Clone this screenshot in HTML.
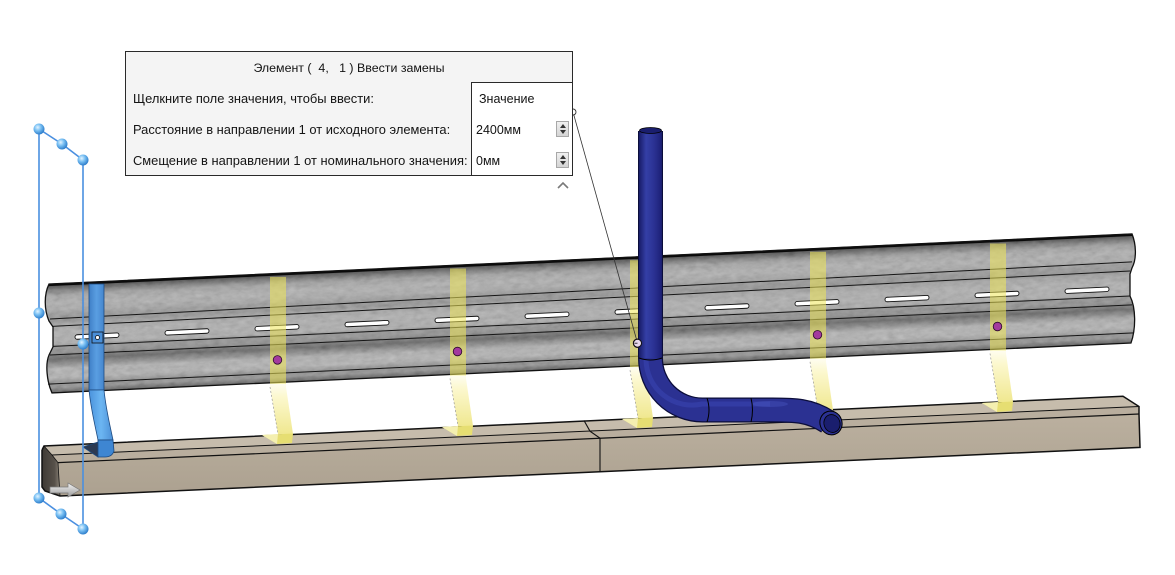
<!DOCTYPE html>
<html><head><meta charset="utf-8">
<style>
html,body{margin:0;padding:0;background:#fff;}
#wrap{position:relative;width:1175px;height:575px;overflow:hidden;background:#fff;}
svg{position:absolute;left:0;top:0;}
.dlg{position:absolute;left:125px;top:51px;width:448px;height:125px;box-sizing:border-box;border:1px solid #2a2a2a;background:#f4f4f4;font-family:"Liberation Sans","DejaVu Sans",sans-serif;font-size:12.9px;color:#141414;}
.t{position:absolute;white-space:nowrap;line-height:14px;}
.val{position:absolute;left:345px;top:30px;width:101px;height:93px;box-sizing:border-box;border-left:1px solid #2a2a2a;border-top:1px solid #2a2a2a;background:#fff;font-size:12.5px;}
.sp{position:absolute;left:84px;width:13px;height:16px;box-sizing:border-box;border:1px solid #a8a8a8;background:linear-gradient(#f0f0f0,#d4d4d4);}
.sp:before{content:"";position:absolute;left:3px;top:2px;border-left:3px solid transparent;border-right:3px solid transparent;border-bottom:4px solid #333;}
.sp:after{content:"";position:absolute;left:3px;top:8px;border-left:3px solid transparent;border-right:3px solid transparent;border-top:4px solid #333;}
</style></head>
<body><div id="wrap">
<svg width="1175" height="575" viewBox="0 0 1175 575" xmlns="http://www.w3.org/2000/svg">
<defs>
<linearGradient id="railg" x1="0" y1="0" x2="0" y2="1">
<stop offset="0" stop-color="#1a1a1a"/>
<stop offset="0.02" stop-color="#333333"/>
<stop offset="0.06" stop-color="#6e6e6e"/>
<stop offset="0.10" stop-color="#9a9a9a"/>
<stop offset="0.17" stop-color="#adadad"/>
<stop offset="0.24" stop-color="#a5a5a5"/>
<stop offset="0.28" stop-color="#939393"/>
<stop offset="0.34" stop-color="#8a8a8a"/>
<stop offset="0.37" stop-color="#9c9c9c"/>
<stop offset="0.44" stop-color="#acacac"/>
<stop offset="0.55" stop-color="#a8a8a8"/>
<stop offset="0.57" stop-color="#8e8e8e"/>
<stop offset="0.63" stop-color="#858585"/>
<stop offset="0.655" stop-color="#6a6a6a"/>
<stop offset="0.69" stop-color="#525252"/>
<stop offset="0.73" stop-color="#7a7a7a"/>
<stop offset="0.78" stop-color="#adadad"/>
<stop offset="0.86" stop-color="#b0b0b0"/>
<stop offset="0.905" stop-color="#8a8a8a"/>
<stop offset="0.95" stop-color="#888888"/>
<stop offset="1" stop-color="#444444"/>
</linearGradient>
<filter id="noise" x="0" y="0" width="100%" height="100%">
<feTurbulence type="fractalNoise" baseFrequency="0.12 0.25" numOctaves="3" seed="7"/>
<feColorMatrix type="matrix" values="0.33 0.33 0.33 0 0  0.33 0.33 0.33 0 0  0.33 0.33 0.33 0 0  0 0 0 0 1"/>
</filter>
<clipPath id="railclip">
<path d="M3,0 L1086,0 C1090,10 1091,25 1086,34 L1084,40 L1084,62 C1090,74 1090,95 1085,109 L6,109 C1,98 -1,80 3,71 L7,63 L7,43 L3,37 C-2,25 -2,10 3,0 Z"/>
</clipPath>
<linearGradient id="frontg" x1="0" y1="0" x2="0" y2="1">
<stop offset="0" stop-color="#bbb09f"/>
<stop offset="1" stop-color="#aca190"/>
</linearGradient>
<linearGradient id="leftg" x1="0" y1="0" x2="1" y2="0">
<stop offset="0" stop-color="#3e3934"/>
<stop offset="0.7" stop-color="#57514a"/>
<stop offset="1" stop-color="#8a8276"/>
</linearGradient>
<linearGradient id="bentg" x1="0" y1="0" x2="0" y2="1">
<stop offset="0" stop-color="#fefdf0"/>
<stop offset="0.25" stop-color="#fcf8cf"/>
<stop offset="1" stop-color="#f0e890"/>
</linearGradient>
<linearGradient id="pipev" x1="0" y1="0" x2="1" y2="0">
<stop offset="0" stop-color="#1a1e6c"/>
<stop offset="0.3" stop-color="#343fa6"/>
<stop offset="0.65" stop-color="#2b3294"/>
<stop offset="1" stop-color="#1c2076"/>
</linearGradient>
<linearGradient id="bluev" x1="0" y1="0" x2="1" y2="0">
<stop offset="0" stop-color="#3f7fc6"/>
<stop offset="0.5" stop-color="#5a9ee2"/>
<stop offset="1" stop-color="#4586cd"/>
</linearGradient>
<linearGradient id="blueb" x1="0" y1="0" x2="1" y2="0">
<stop offset="0" stop-color="#4a92dc"/>
<stop offset="0.5" stop-color="#6cb6f2"/>
<stop offset="1" stop-color="#4c8fd6"/>
</linearGradient>
<radialGradient id="sph" cx="0.38" cy="0.35" r="0.65">
<stop offset="0" stop-color="#e4f4ff"/>
<stop offset="0.45" stop-color="#7cc2f4"/>
<stop offset="1" stop-color="#2f7fcc"/>
</radialGradient>
<linearGradient id="arrg" x1="0" y1="0" x2="0" y2="1">
<stop offset="0" stop-color="#f4f4f4"/>
<stop offset="1" stop-color="#9a9a9a"/>
</linearGradient>
</defs>

<!-- RAIL -->
<g transform="matrix(1,-0.0463,0,1,46,284.2)">
<path d="M3,0 L1086,0 C1090,10 1091,25 1086,34 L1084,40 L1084,62 C1090,74 1090,95 1085,109 L6,109 C1,98 -1,80 3,71 L7,63 L7,43 L3,37 C-2,25 -2,10 3,0 Z" fill="url(#railg)"/>
<g clip-path="url(#railclip)">
<rect x="-2" y="0" width="1094" height="110" filter="url(#noise)" opacity="0.3"/>
</g>
<g stroke="#151515" stroke-width="1" fill="none">
<line x1="4" y1="35" x2="1086" y2="28"/>
<line x1="6" y1="42.5" x2="1084" y2="37"/>
<line x1="7" y1="62.5" x2="1084" y2="62"/>
<line x1="4" y1="71" x2="1086" y2="71"/>
<line x1="2" y1="100" x2="1088" y2="99"/>
</g>
<line x1="3" y1="0.8" x2="1086" y2="0.8" stroke="#0a0a0a" stroke-width="2.5"/>
<path d="M3,0 L1086,0 C1090,10 1091,25 1086,34 L1084,40 L1084,62 C1090,74 1090,95 1085,109 L6,109 C1,98 -1,80 3,71 L7,63 L7,43 L3,37 C-2,25 -2,10 3,0 Z" fill="none" stroke="#111" stroke-width="1.3"/>
<g fill="#fff" stroke="#111" stroke-width="0.9">
<rect x="29" y="52" width="44" height="4.5" rx="2.25"/>
<rect x="119" y="52" width="44" height="4.5" rx="2.25"/>
<rect x="209" y="52" width="44" height="4.5" rx="2.25"/>
<rect x="299" y="52" width="44" height="4.5" rx="2.25"/>
<rect x="389" y="52" width="44" height="4.5" rx="2.25"/>
<rect x="479" y="52" width="44" height="4.5" rx="2.25"/>
<rect x="569" y="52" width="44" height="4.5" rx="2.25"/>
<rect x="659" y="52" width="44" height="4.5" rx="2.25"/>
<rect x="749" y="52" width="44" height="4.5" rx="2.25"/>
<rect x="839" y="52" width="44" height="4.5" rx="2.25"/>
<rect x="929" y="52" width="44" height="4.5" rx="2.25"/>
<rect x="1019" y="52" width="44" height="4.5" rx="2.25"/>
</g>
</g>

<!-- BEAM -->
<polygon points="44,446 1123,396.2 1139,406.5 52,455" fill="#c6bcac"/>
<polygon points="52,455 1139,406.5 1139,414 58,462.6" fill="#b9ae9e"/>
<polygon points="58,462.6 1139,414 1140,447.4 60,496" fill="url(#frontg)"/>
<polygon points="42,450 44,446 52,455 58,462.6 60,496 45,491 42,487" fill="url(#leftg)"/>
<g stroke="#111" fill="none">
<polyline points="42,450 44,446 1123,396.2 1139,406.5 1139,414 1140,447.4 60,496 45,491 42,487 42,450" stroke-width="1.5"/>
<line x1="52" y1="455" x2="1139" y2="406.5" stroke-width="1"/>
<line x1="58" y1="462.6" x2="1139" y2="414" stroke-width="1.2"/>
<polyline points="44,446 52,455 58,462.6 60,496" stroke-width="0.8"/>
<polyline points="584,420.5 590,431.2 600,438.2 600,471.7" stroke-width="1.1"/>
</g>

<!-- GHOST POSTS -->
<g>
<rect x="270" y="276.9" width="16" height="107" fill="rgba(240,232,90,0.55)"/>
<polygon points="270,383.9 286,383.9 286,387 293,434 278,434 270,387" fill="url(#bentg)"/>
<line x1="270" y1="387" x2="278" y2="434" stroke="#999" stroke-width="0.7" stroke-dasharray="2,2"/>
<polygon points="262,435 293,433.5 292,443 277,444" fill="#e6de72"/>
<polygon points="262,435 278,434 277,444" fill="#f4efb0"/>
<circle cx="277.5" cy="359.9" r="4.3" fill="#a33a9e" stroke="#2a0a28" stroke-width="0.8"/>

<rect x="450" y="268.5" width="16" height="107" fill="rgba(240,232,90,0.55)"/>
<polygon points="450,375.5 466,375.5 466,378.5 473,426 458,426 450,378.5" fill="url(#bentg)"/>
<line x1="450" y1="378.5" x2="458" y2="426" stroke="#999" stroke-width="0.7" stroke-dasharray="2,2"/>
<polygon points="442,427 473,425.5 472,435 457,436" fill="#e6de72"/>
<polygon points="442,427 458,426 457,436" fill="#f4efb0"/>
<circle cx="457.5" cy="351.5" r="4.3" fill="#a33a9e" stroke="#2a0a28" stroke-width="0.8"/>

<rect x="630" y="260.2" width="16" height="107" fill="rgba(240,232,90,0.55)"/>
<polygon points="630,367.2 646,367.2 646,370.2 653,418 638,418 630,370.2" fill="url(#bentg)"/>
<line x1="630" y1="370.2" x2="638" y2="418" stroke="#999" stroke-width="0.7" stroke-dasharray="2,2"/>
<polygon points="622,419 653,417.5 652,427 637,428" fill="#e6de72"/>
<polygon points="622,419 638,418 637,428" fill="#f4efb0"/>
<circle cx="637.5" cy="343.2" r="4.3" fill="#a33a9e" stroke="#2a0a28" stroke-width="0.8"/>

<rect x="810" y="251.8" width="16" height="107" fill="rgba(240,232,90,0.55)"/>
<polygon points="810,358.8 826,358.8 826,361.8 833,410 818,410 810,361.8" fill="url(#bentg)"/>
<line x1="810" y1="361.8" x2="818" y2="410" stroke="#999" stroke-width="0.7" stroke-dasharray="2,2"/>
<polygon points="802,411 833,409.5 832,419 817,420" fill="#e6de72"/>
<polygon points="802,411 818,410 817,420" fill="#f4efb0"/>
<circle cx="817.5" cy="334.8" r="4.3" fill="#a33a9e" stroke="#2a0a28" stroke-width="0.8"/>

<rect x="990" y="243.5" width="16" height="107" fill="rgba(240,232,90,0.55)"/>
<polygon points="990,350.5 1006,350.5 1006,353.5 1013,402 998,402 990,353.5" fill="url(#bentg)"/>
<line x1="990" y1="353.5" x2="998" y2="402" stroke="#999" stroke-width="0.7" stroke-dasharray="2,2"/>
<polygon points="982,403 1013,401.5 1012,411 997,412" fill="#e6de72"/>
<polygon points="982,403 998,402 997,412" fill="#f4efb0"/>
<circle cx="997.5" cy="326.5" r="4.3" fill="#a33a9e" stroke="#2a0a28" stroke-width="0.8"/>
</g>

<!-- BLUE BRACKET -->
<g stroke="#1d4a80" stroke-width="0.8">
<rect x="89" y="284" width="15" height="106" fill="url(#bluev)"/>
<path d="M89,390 L104,390 C106,410 110,425 113,440 L98,440 C95,425 91,410 89,390 Z" fill="url(#blueb)"/>
<polygon points="83,447 98,442 98,457" fill="#2c3a52"/>
<path d="M98,440 L113,440 L114,451 Q112,457 105,457 L98,457 Z" fill="#3e86d2"/>
<rect x="92" y="332" width="11" height="11" fill="#4a8fd8" stroke="#111"/>
</g>
<circle cx="97.5" cy="337.5" r="2" fill="#fff" stroke="#111" stroke-width="0.8"/>

<!-- PIPE -->
<path d="M650.5,131 V358 A52,52 0 0 0 702.5,410 L765,410 C792,410 808,409 828,422" stroke="#0b0d3a" stroke-width="25" fill="none"/>
<path d="M650.5,131 V358 A52,52 0 0 0 702.5,410 L765,410 C792,410 808,409 828,422" stroke="#2b3192" stroke-width="22.5" fill="none"/>
<rect x="639.5" y="131" width="22" height="227" fill="url(#pipev)"/>
<path d="M646,360 A46,46 0 0 0 702,404 L770,404" stroke="#3a45b2" stroke-width="5" fill="none" opacity="0.55"/>
<ellipse cx="770" cy="404" rx="18" ry="3" fill="#4b58c4" opacity="0.4"/>
<g stroke="#000" stroke-width="1" fill="none">
<path d="M639,358 Q650.5,362 662,358"/>
<path d="M707,398 Q711,410 707,422"/>
<path d="M751,398 Q754,410 751,422"/>
</g>
<ellipse cx="650.5" cy="130.5" rx="11" ry="3" fill="#1a1e6e" stroke="#000" stroke-width="0.8"/>
<ellipse cx="831" cy="423" rx="11" ry="12" transform="rotate(-20 831 423)" fill="#2b3192" stroke="#000" stroke-width="1"/>
<ellipse cx="832" cy="423.5" rx="8" ry="9" transform="rotate(-20 832 423.5)" fill="#1a1e6e" stroke="#000" stroke-width="0.8"/>

<!-- SELECTION BOX -->
<g stroke="#4a8fe0" stroke-width="1.6" fill="none">
<line x1="39" y1="129" x2="39" y2="498"/>
<line x1="83" y1="160" x2="83" y2="529"/>
<polyline points="39,129 62,144 83,160"/>
<polyline points="39,498 61,514 83,529"/>
</g>
<g fill="url(#sph)">
<circle cx="39" cy="129" r="5.5"/>
<circle cx="62" cy="144" r="5.5"/>
<circle cx="83" cy="160" r="5.5"/>
<circle cx="39" cy="313" r="5.5"/>
<circle cx="83" cy="344" r="5.5"/>
<circle cx="39" cy="498" r="5.5"/>
<circle cx="61" cy="514" r="5.5"/>
<circle cx="83" cy="529" r="5.5"/>
</g>

<polygon points="50,487 68,487 68,483 80,490 68,497 68,493 50,493" fill="url(#arrg)" stroke="#7a7a7a" stroke-width="0.7"/>

<line x1="573" y1="112" x2="637.5" y2="343" stroke="#333" stroke-width="0.8"/>
<circle cx="573" cy="112" r="3" fill="#fff" stroke="#333" stroke-width="0.9"/>
<circle cx="637.5" cy="343.2" r="4" fill="#e8d8ec" stroke="#111" stroke-width="1"/>
<line x1="634.5" y1="343.2" x2="637.5" y2="343.2" stroke="#111" stroke-width="0.8"/>

<polyline points="558,188 563,183 568,188" stroke="#7a7a7a" stroke-width="1.6" fill="none"/>
</svg>

<div class="dlg">
<div class="t" style="left:0;width:446px;text-align:center;top:9px;font-size:12.4px;">Элемент (&nbsp; 4,&nbsp;&nbsp; 1 ) Ввести замены</div>
<div class="t" style="left:7px;top:40px;">Щелкните поле значения, чтобы ввести:</div>
<div class="t" style="left:7px;top:71px;">Расстояние в направлении 1 от исходного элемента:</div>
<div class="t" style="left:7px;top:102px;">Смещение в направлении 1 от номинального значения:</div>
<div class="val">
<div class="t" style="left:7px;top:9px;">Значение</div>
<div class="t" style="left:4px;top:40px;">2400мм</div>
<div class="t" style="left:4px;top:71px;">0мм</div>
<div class="sp" style="top:38px;"></div>
<div class="sp" style="top:69px;"></div>
</div>
</div>
</div></body></html>
